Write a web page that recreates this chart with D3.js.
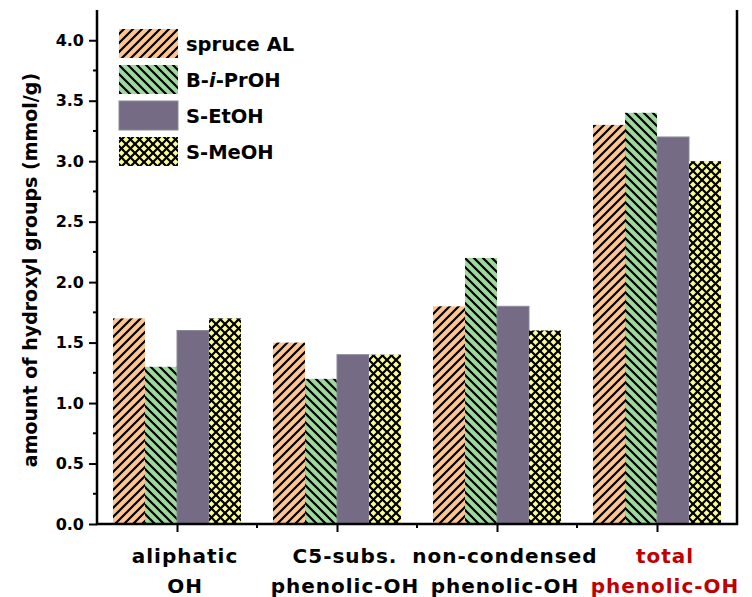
<!DOCTYPE html>
<html>
<head>
<meta charset="utf-8">
<script src="https://cdn.jsdelivr.net/npm/d3@7"></script>
<style>
  body { margin: 0; background: #fff; }
  text { font-family: "DejaVu Sans", sans-serif; font-weight: bold; }
</style>
</head>
<body>
<svg id="chart" width="752" height="597"></svg>
<script>
var categories = ['aliphatic OH', 'C5-subs. phenolic-OH', 'non-condensed phenolic-OH', 'total phenolic-OH'];
var catLines = [['aliphatic', 'OH'], ['C5-subs.', 'phenolic-OH'], ['non-condensed', 'phenolic-OH'], ['total', 'phenolic-OH']];
var series = ['spruce AL', 'B-i-PrOH', 'S-EtOH', 'S-MeOH'];
var spruceAL = [1.7, 1.5, 1.8, 3.3];
var bIPrOH = [1.3, 1.2, 2.2, 3.4];
var sEtOH = [1.6, 1.4, 1.8, 3.2];
var sMeOH = [1.7, 1.4, 1.6, 3.0];
var yTicks = [0, 0.5, 1, 1.5, 2, 2.5, 3, 3.5, 4];

var values = [spruceAL, bIPrOH, sEtOH, sMeOH];
var fills = ['#fdc593', '#9ed89e', '#766b85', '#fdfd98'];
var patterns = ['url(#p0)', 'url(#p1)', null, 'url(#p3)'];

var svg = d3.select('#chart');
var mLeft = 97, mRight = 737, mTop = 10, mBottom = 524;

var x = d3.scaleLinear().domain([0.5, 4.5]).range([mLeft, mRight]);
var y = d3.scaleLinear().domain([0, 4.25]).range([mBottom, mTop]);
var unit = x(1) - x(0);
var barW = unit * 0.8 / 4;

// hatch patterns
var defs = svg.append('defs');
function hatch(id, bg, dirs) {
  var p = defs.append('pattern').attr('id', id)
    .attr('patternUnits', 'userSpaceOnUse').attr('width', 9).attr('height', 9);
  p.append('rect').attr('width', 9).attr('height', 9).attr('fill', bg);
  dirs.forEach(function (d) {
    if (d === '/') {
      p.append('path').attr('d', 'M-2,2 L2,-2 M0,9 L9,0 M7,11 L11,7');
    } else {
      p.append('path').attr('d', 'M-2,7 L2,11 M0,0 L9,9 M7,-2 L11,2');
    }
  });
  p.selectAll('path').attr('stroke', '#000').attr('stroke-width', 2.2);
}
hatch('p0', fills[0], ['/']);
hatch('p1', fills[1], ['\\']);
hatch('p3', fills[3], ['/', '\\']);

// bars
values.forEach(function (vals, s) {
  svg.append('g').selectAll('rect').data(vals).enter().append('rect')
    .attr('x', function (d, i) { return x(i + 1) - 2 * barW + s * barW; })
    .attr('y', function (d) { return y(d); })
    .attr('width', barW)
    .attr('height', function (d) { return y(0) - y(d); })
    .attr('fill', patterns[s] || fills[s])
    .attr('stroke', s === 2 ? '#8a8a96' : 'none')
    .attr('stroke-width', 1);
});

// y axis
var yAxis = d3.axisLeft(y).tickValues(yTicks).tickFormat(d3.format('.1f')).tickSize(8).tickPadding(5);
var gy = svg.append('g').attr('transform', 'translate(' + mLeft + ',0)').call(yAxis);
gy.select('.domain').remove();
gy.selectAll('.tick line').attr('stroke-width', 2);
gy.selectAll('.tick text').attr('font-size', 16).attr('fill', '#000');
svg.append('g').selectAll('line').data(d3.range(0.25, 4.25, 0.5)).enter().append('line')
  .attr('x1', mLeft - 4).attr('x2', mLeft).attr('y1', function (d) { return y(d); }).attr('y2', function (d) { return y(d); })
  .attr('stroke', '#000').attr('stroke-width', 2);

// x axis
var xAxis = d3.axisBottom(x).tickValues([1, 2, 3, 4]).tickFormat('').tickSize(8);
var gx = svg.append('g').attr('transform', 'translate(0,' + mBottom + ')').call(xAxis);
gx.select('.domain').remove();
gx.selectAll('.tick line').attr('stroke-width', 2);
svg.append('g').selectAll('line').data([1.5, 2.5, 3.5]).enter().append('line')
  .attr('x1', function (d) { return x(d); }).attr('x2', function (d) { return x(d); })
  .attr('y1', mBottom).attr('y2', mBottom + 4)
  .attr('stroke', '#000').attr('stroke-width', 2);

// frame
svg.append('path')
  .attr('d', 'M' + mLeft + ',' + mTop + 'V' + mBottom + 'H' + mRight + 'V' + mTop)
  .attr('fill', 'none').attr('stroke', '#000').attr('stroke-width', 2.5);

// category labels (sit a little right of the tick, as in the original)
catLines.forEach(function (lines, i) {
  var cx = x(i + 1) + 8;
  var t = svg.append('text').attr('x', cx).attr('y', 563)
    .attr('text-anchor', 'middle').attr('font-size', 20).attr('letter-spacing', 1)
    .attr('fill', i === 3 ? '#c00000' : '#000');
  lines.forEach(function (l, k) {
    t.append('tspan').attr('x', cx).attr('dy', k === 0 ? 0 : 30).text(l);
  });
});

// y title
svg.append('text')
  .attr('transform', 'translate(37,' + y(2.1) + ') rotate(-90)')
  .attr('text-anchor', 'middle').attr('font-size', 19)
  .text('amount of hydroxyl groups (mmol/g)');

// legend
var leg = svg.append('g');
series.forEach(function (name, s) {
  var yy = 29 + s * 36;
  leg.append('rect').attr('x', 119).attr('y', yy).attr('width', 59).attr('height', 29)
    .attr('fill', patterns[s] || fills[s])
    .attr('stroke', s === 2 ? '#8a8a96' : 'none');
  var t = leg.append('text').attr('x', 186).attr('y', yy + 22).attr('font-size', 19.5);
  if (s === 1) {
    t.append('tspan').text('B-');
    t.append('tspan').attr('font-style', 'italic').text('i');
    t.append('tspan').text('-PrOH');
  } else {
    t.text(name);
  }
});
</script>
</body>
</html>
